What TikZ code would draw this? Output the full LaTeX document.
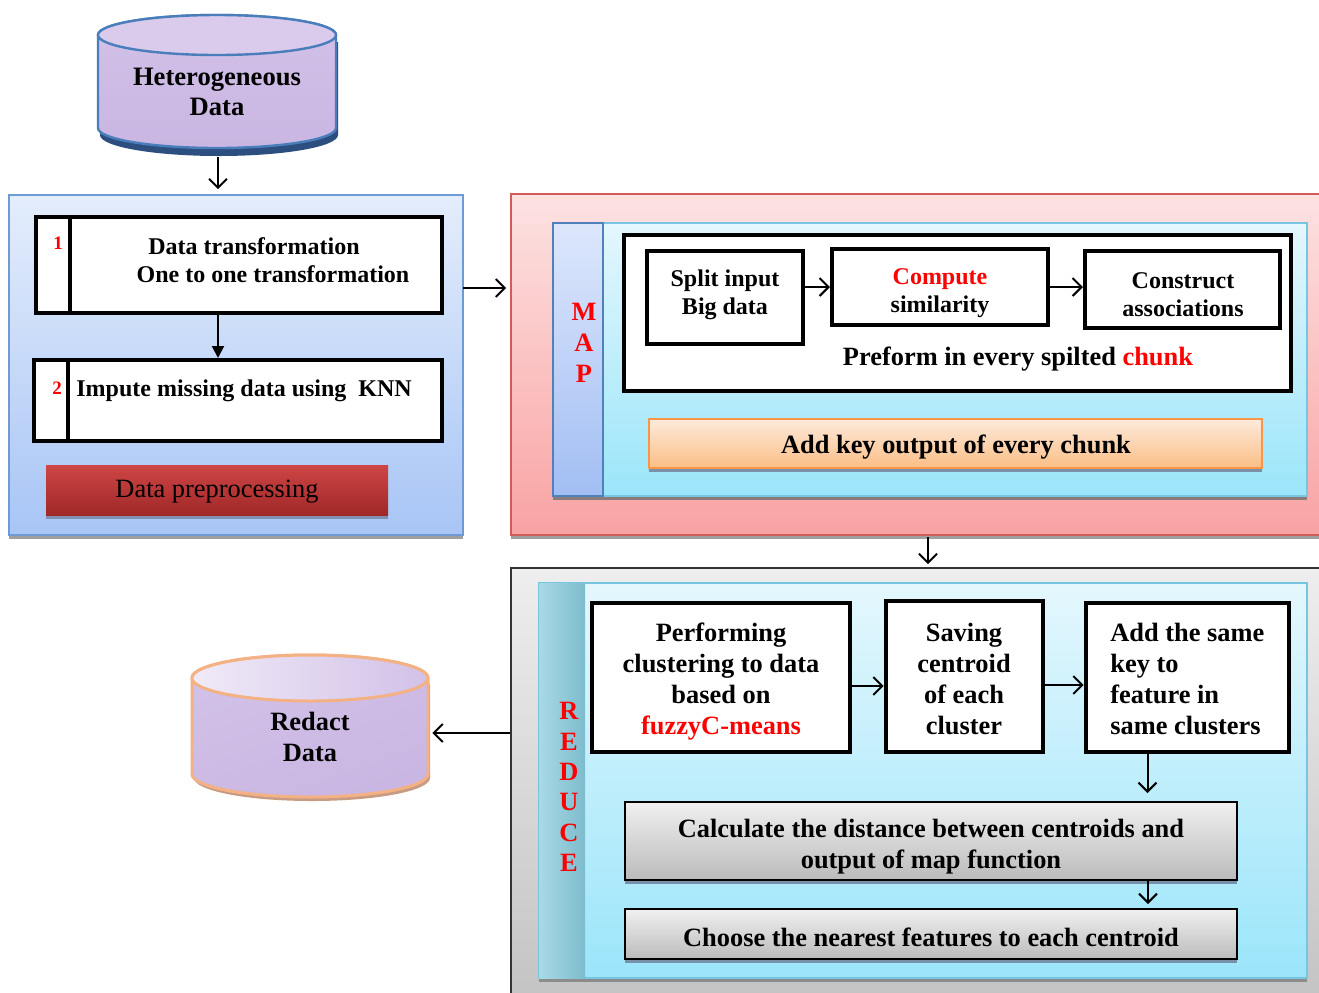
\documentclass[tikz,border=0pt]{standalone}
\usepackage{fontspec}
\setmainfont{Liberation Serif}
\usetikzlibrary{arrows.meta,fit,shadows}
\definecolor{cylTop}{HTML}{DACBEC}
\definecolor{cylA}{HTML}{D2C1E8}
\definecolor{cylM}{HTML}{F0EAF7}
\definecolor{cylB}{HTML}{C9B6E2}
\definecolor{cylBlue}{HTML}{4A7EBB}
\definecolor{cylBlueSh}{HTML}{2D4F7F}
\definecolor{cylPeach}{HTML}{F4B183}
\definecolor{cylPeachSh}{HTML}{C89C82}
\definecolor{prepT}{HTML}{E4EDFC}
\definecolor{prepB}{HTML}{A8C5F5}
\definecolor{prepL}{HTML}{6E9AD6}
\definecolor{mapT}{HTML}{FDE2E2}
\definecolor{mapB}{HTML}{F9A3A3}
\definecolor{mapL}{HTML}{D25C5C}
\definecolor{stripT}{HTML}{DDE7FC}
\definecolor{stripB}{HTML}{A2BEF3}
\definecolor{stripL}{HTML}{4F81BD}
\definecolor{cyT}{HTML}{E4F7FD}
\definecolor{cyB}{HTML}{9BE5FA}
\definecolor{cyL}{HTML}{78C5E2}
\definecolor{orT}{HTML}{FDEADB}
\definecolor{orB}{HTML}{FBBE86}
\definecolor{orL}{HTML}{F79646}
\definecolor{rdT}{HTML}{CE4545}
\definecolor{rdB}{HTML}{A02828}
\definecolor{grT}{HTML}{EEEEEE}
\definecolor{grB}{HTML}{C4C4C4}
\definecolor{bxT}{HTML}{F0F0F0}
\definecolor{bxB}{HTML}{BBBBBB}
\definecolor{tealE}{HTML}{A9D9E5}
\definecolor{tealM}{HTML}{D9F0F5}
\definecolor{tealR}{HTML}{7DBCCD}
\definecolor{shBar}{HTML}{7E91B5}
\definecolor{shOr}{HTML}{7990A8}
\definecolor{shMap}{HTML}{8B7B7B}
\definecolor{shBox}{HTML}{7890A8}
\begin{document}
\begin{tikzpicture}[x=0.5pt,y=-0.5pt,
  arr/.style={-{Straight Barb[length=4.5pt,width=9pt]}, line width=1pt},
  tri/.style={-{Triangle[length=6pt,width=6pt]}, line width=1pt},
  box/.style={inner sep=0pt},
  blackbox/.style={draw=black, line width=2pt, fill=white},
  bt/.style={font=\bfseries\fontsize{13.2}{15.5}\selectfont, align=center},
  sm/.style={font=\bfseries\fontsize{12}{14}\selectfont, align=center},
  shd/.style={drop shadow={shadow xshift=0pt, shadow yshift=-2pt, fill=#1, opacity=1}},
]
\useasboundingbox (0,0) rectangle (1319,992);
\fill[white] (0,0) rectangle (1319,992);

% ---------- Heterogeneous Data cylinder ----------
\fill[cylBlueSh] (100,42) -- (100,135) arc[start angle=180,end angle=0,x radius=119,y radius=21] -- (338,42) -- cycle;
\path[draw=cylBlue, line width=1.2pt, top color=cylA, middle color=cylM, bottom color=cylB]
  (98,35) -- (98,128) arc[start angle=180,end angle=0,x radius=119,y radius=20]
  -- (336,35) arc[start angle=0,end angle=-180,x radius=119,y radius=20] -- cycle;
\path[draw=cylBlue, line width=1.2pt, fill=cylTop] (217,35) ellipse[x radius=119, y radius=20];
\node[box, fit={(98,15)(338,157)}] (het) {};
\node[bt, font=\bfseries\fontsize{13.3}{15}\selectfont] (hett) at (217,92) {Heterogeneous\\Data};

% ---------- Data preprocessing panel ----------
\node[box, fit={(9,195)(463,535)}, draw=prepL, line width=0.8pt, top color=prepT, bottom color=prepB, shd=gray!75] (prep) {};
\node[box, fit={(36,217)(442,313)}, blackbox] (b1) {};
\draw[line width=2pt] (70,217) -- (70,313);
\node[font=\bfseries\fontsize{9.5}{11}\selectfont, text=red] (n1) at (58,243) {1};
\node[sm] (b1t) at (273,260) {Data transformation\hspace*{19pt}\\One to one transformation};
\node[box, fit={(34,360)(442,441)}, blackbox] (b2) {};
\draw[line width=2pt] (68,360) -- (68,441);
\node[font=\bfseries\fontsize{9.5}{11}\selectfont, text=red] (n2) at (57,388) {2};
\node[sm, anchor=west, inner sep=0pt] (b2t) at (76,391) {Impute missing data using\ \ KNN};
\node[box, fit={(46,465)(388,515)}, top color=rdT, bottom color=rdB, shd=shBar] (bar) {};
\node[font=\fontsize{13.2}{15}\selectfont] (bart) at (217,492) {Data preprocessing};
\draw[tri] (b1.south -| het.south) -- (b2.north -| het.south);

% ---------- MAP panel ----------
\node[box, fit={(511,194)(1322,535)}, draw=mapL, line width=0.8pt, top color=mapT, bottom color=mapB, shd=gray!75] (map) {};
\node[box, fit={(553,223)(1307,496)}, draw=cyL, line width=0.8pt, top color=cyT, bottom color=cyB, shd=shMap] (mapin) {};
\node[box, fit={(553,223)(603,496)}, draw=stripL, line width=0.8pt, top color=stripT, bottom color=stripB] (mapstrip) {};
\node[bt, text=red] (mapl) at (584,343) {M\\A\\P};
\node[box, fit={(624,235)(1291,391)}, blackbox] (white) {};
\node[box, fit={(647,251)(803,344)}, blackbox] (split) {};
\node[sm] (splitt) at (725,295) {Split input\\Big data};
\node[box, fit={(832,249)(1048,325)}, blackbox] (cmp) {};
\node[sm] (cmpt) at (940,293) {\textcolor{red}{Compute}\\similarity};
\node[box, fit={(1085,251)(1280,328)}, blackbox] (cst) {};
\node[sm] (cstt) at (1183,295) {Construct\\associations};
\node[bt] (pref) at (1018,359) {Preform in every spilted \textcolor{red}{chunk}};
\node[box, fit={(649,419)(1262,468)}, draw=orL, line width=1pt, top color=orT, bottom color=orB, shd=shOr] (orb) {};
\node[bt] (orbt) at (956,447) {Add key output of every chunk};
\draw[arr] (split.east |- cmp.east) -- (cmp.west);
\draw[arr] (cmp.east) -- (cmp.east -| cst.west);

% ---------- REDUCE panel ----------
\node[box, fit={(511,568)(1322,995)}, draw=black!80, line width=0.9pt, top color=grT, bottom color=grB] (reduce) {};
\node[box, fit={(539,583)(1307,978)}, draw=cyL, line width=0.8pt, top color=cyT, bottom color=cyB, shd=gray!90] (redin) {};
\node[box, fit={(539,583)(585,978)}, left color=tealE, middle color=tealM, right color=tealR] (redstrip) {};
\node[bt, text=red, font=\bfseries\fontsize{13.2}{15.2}\selectfont] (redl) at (569,787) {R\\E\\D\\U\\C\\E};
\node[box, fit={(592,603)(850,752)}, blackbox, line width=2.3pt] (perf) {};
\node[bt] (perft) at (721,682) {Performing\\clustering to data\\based on\\\textcolor{red}{fuzzyC-means}};
\node[box, fit={(886,601)(1043,752)}, blackbox, line width=2.3pt] (sav) {};
\node[bt] (savt) at (964,679) {Saving\\centroid\\of each\\cluster};
\node[box, fit={(1086,603)(1289,752)}, blackbox, line width=2.3pt] (add) {};
\node[bt, align=left, anchor=west, inner sep=0pt] (addt) at (1110,679) {Add the same\\key to\\feature in\\same clusters};
\node[box, fit={(625,802)(1237,880)}, draw=black, line width=1pt, top color=bxT, bottom color=bxB, shd=shBox] (calc) {};
\node[bt] (calct) at (931,847) {Calculate the distance between centroids and\\output of map function};
\node[box, fit={(625,909)(1237,959)}, draw=black, line width=1pt, top color=bxT, bottom color=bxB, shd=shBox] (choose) {};
\node[bt] (chooset) at (931,937) {Choose the nearest features to each centroid};
\draw[arr] ([yshift=-4.25pt]perf.east) -- ([yshift=-4.25pt]perf.east -| sav.west);
\draw[arr] ([yshift=-4.25pt]sav.east) -- ([yshift=-4.25pt]sav.east -| add.west);
\draw[arr, shorten >=4pt] ([xshift=-20pt]add.south) -- ([xshift=-20pt]add.south |- calc.north);
\draw[arr, shorten >=2pt] ([xshift=108.5pt]calc.south) -- ([xshift=108.5pt]calc.south |- choose.north);

% ---------- Redact Data cylinder ----------
\fill[cylPeachSh] (194,684) -- (194,778) arc[start angle=180,end angle=0,x radius=118,y radius=23] -- (430,684) -- cycle;
\path[draw=cylPeach, line width=1.5pt, top color=cylA, middle color=cylM, bottom color=cylB, shading angle=20]
  (192,678) -- (192,774) arc[start angle=180,end angle=0,x radius=118,y radius=23]
  -- (428,678) arc[start angle=0,end angle=-180,x radius=118,y radius=23] -- cycle;
\path[draw=cylPeach, line width=1.5pt, left color=cylM, right color=cylA] (310,678) ellipse[x radius=118, y radius=23];
\node[box, fit={(192,655)(432,811)}] (rdc) {};
\node[bt] (rdct) at (310,737) {Redact\\Data};

% ---------- connectors between panels ----------
\coordinate (pm) at (463,288);
\coordinate (mr) at (928,537);
\draw[arr, shorten >=2.5pt] (het.south) -- (het.south |- prep.north);
\draw[arr, shorten >=2pt] (pm) -- (pm -| map.west);
\draw[arr, shorten >=1.5pt] (mr) -- (mr |- reduce.north);
\draw[arr] (reduce.west |- rdc.center) -- (rdc.east);
\end{tikzpicture}
\end{document}
